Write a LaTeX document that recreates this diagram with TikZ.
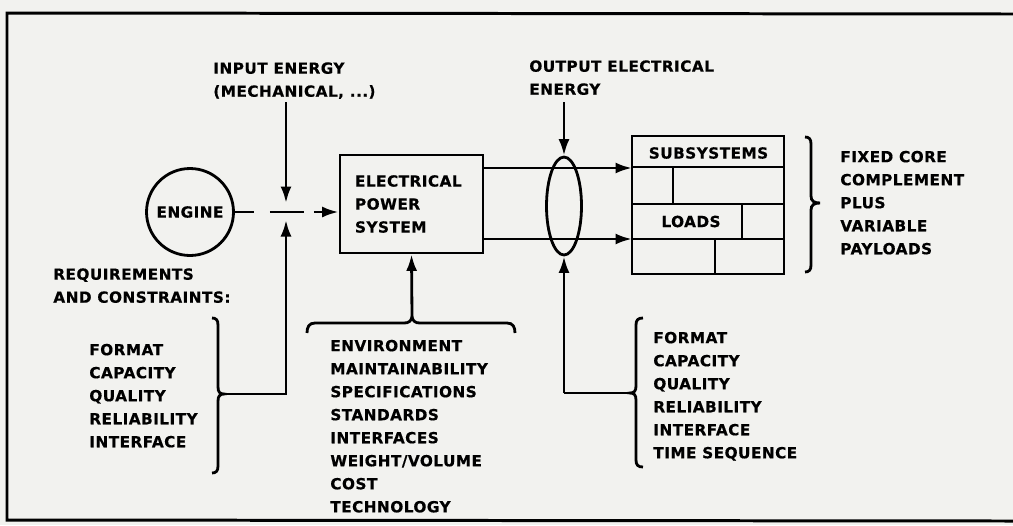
\documentclass[tikz,border=0pt]{standalone}
\usepackage{fontspec}
\newfontfamily\diafont{DejaVu Sans}[LetterSpace=3, BoldFeatures={FakeBold=0.5}]
\usetikzlibrary{arrows.meta,shapes.geometric}
\definecolor{paper}{RGB}{242,242,239}
\tikzset{
  fnt/.style={font=\diafont\bfseries\fontsize{8.7}{13.1}\selectfont},
  txt/.style={fnt, inner sep=0pt, anchor=north west, align=left},
  ln/.style={line width=1.6pt},
  arr/.style={ln, -{Latex[length=0.33cm,width=0.22cm]}},
  box/.style={draw, ln, rectangle, inner sep=0pt},
}
\begin{document}
\begin{tikzpicture}[x=0.02cm,y=-0.02cm]
\fill[paper] (0,0) rectangle (1013,525);
\useasboundingbox (0,0) rectangle (1013,525);
% frame
\draw[line width=1.7pt] (1013,14) -- (7,13) -- (7,520) -- (1013,521);

% engine and EPS
\node[draw, ln, circle, minimum size=1.74cm, inner sep=0pt, fnt] (engine) at (190,212) {ENGINE};
\node[box, fnt, minimum width=2.86cm, minimum height=1.96cm, text width=2.26cm, inner xsep=0.3cm, align=left] (eps) at (411.5,204) {ELECTRICAL\\POWER\\SYSTEM};

% input energy
\node[txt] (inen) at (213,62) {INPUT ENERGY\\(MECHANICAL, ...)};
\coordinate (iTop) at (286,102);
\coordinate (iDn) at (286,203);
\coordinate (iUp) at (286,220);
\draw[arr] (iTop) -- (iDn);
\draw[ln, dash pattern=on 0.38cm off 0.32cm on 0.68cm off 0.2cm, -{Latex[length=0.33cm,width=0.22cm]}] (engine.east) -- (eps.west |- engine.east);

% requirements
\node[txt] (req) at (53,268) {REQUIREMENTS\\AND CONSTRAINTS:};
\node[txt] (llist) at (89,343.5) {FORMAT\\CAPACITY\\QUALITY\\RELIABILITY\\INTERFACE};
\draw[ln] (212,318) .. controls (216,318) and (218,320) .. (218,325) -- (218,387) .. controls (218,392) and (220,394) .. (224,394) .. controls (220,394) and (218,396) .. (218,401) -- (218,466) .. controls (218,471) and (216,473) .. (212,473);
\coordinate (lbt) at (224,394);
\draw[arr] (lbt) -| (iUp);

% bottom centre list
\node[txt] (blist) at (330,339.5) {ENVIRONMENT\\MAINTAINABILITY\\SPECIFICATIONS\\STANDARDS\\INTERFACES\\WEIGHT/VOLUME\\COST\\TECHNOLOGY};
\draw[ln] (307,333) .. controls (307,327) and (309,323) .. (315,323) -- (404,323) .. controls (409,323) and (411,321) .. (412,317) .. controls (413,321) and (415,323) .. (420,323) -- (507,323) .. controls (513,323) and (515,327) .. (515,333);
\coordinate (bct) at (412,317);
\draw[arr] (bct) -- (eps.south);

% subsystems / loads
\node[box, minimum width=3.04cm, minimum height=2.76cm] (subs) at (708,205) {};
\draw[ln] (632,167) -- (784,167);
\draw[ln] (632,204) -- (784,204);
\draw[ln] (632,239) -- (784,239);
\draw[ln] (673,167) -- (673,204);
\draw[ln] (742,204) -- (742,239);
\draw[ln] (715,239) -- (715,274);
\node[fnt, inner sep=0pt] (ss) at (708.5,153) {SUBSYSTEMS};
\node[fnt, inner sep=0pt] (ld) at (691,221.5) {LOADS};
\coordinate (s1) at (632,168);
\coordinate (s2) at (632,239);
\draw[arr] (eps.east |- s1) -- (s1);
\draw[arr] (eps.east |- s2) -- (s2);

% output electrical energy
\node[draw, ln, ellipse, minimum width=0.7cm, minimum height=1.96cm, inner sep=0pt] (ring) at (564,206) {};
\node[txt] (outen) at (529,60) {OUTPUT ELECTRICAL\\ENERGY};
\coordinate (oTop) at (564,102);
\draw[arr] (oTop) -- (ring.north);

% right-bottom list
\node[txt] (rlist) at (653,331.5) {FORMAT\\CAPACITY\\QUALITY\\RELIABILITY\\INTERFACE\\TIME SEQUENCE};
\draw[ln] (643,318) .. controls (638,318) and (636,320) .. (636,325) -- (636,386) .. controls (636,391) and (634,393) .. (630,393) .. controls (634,393) and (636,395) .. (636,400) -- (636,460) .. controls (636,465) and (638,467) .. (643,467);
\coordinate (rbt) at (630,393);
\coordinate (rb) at (564,393);
\draw[ln] (rbt) -- (rb);
\draw[arr] (rb) -- (ring.south);

% fixed core brace
\draw[ln] (805,137) .. controls (809,137) and (811,139) .. (811,144) -- (811,196) .. controls (811,201) and (814,203) .. (820,203) .. controls (814,203) and (811,205) .. (811,210) -- (811,265) .. controls (811,270) and (809,272) .. (805,272);
\node[txt] (fixed) at (840,150.5) {FIXED CORE\\COMPLEMENT\\PLUS\\VARIABLE\\PAYLOADS};
\end{tikzpicture}
\end{document}
